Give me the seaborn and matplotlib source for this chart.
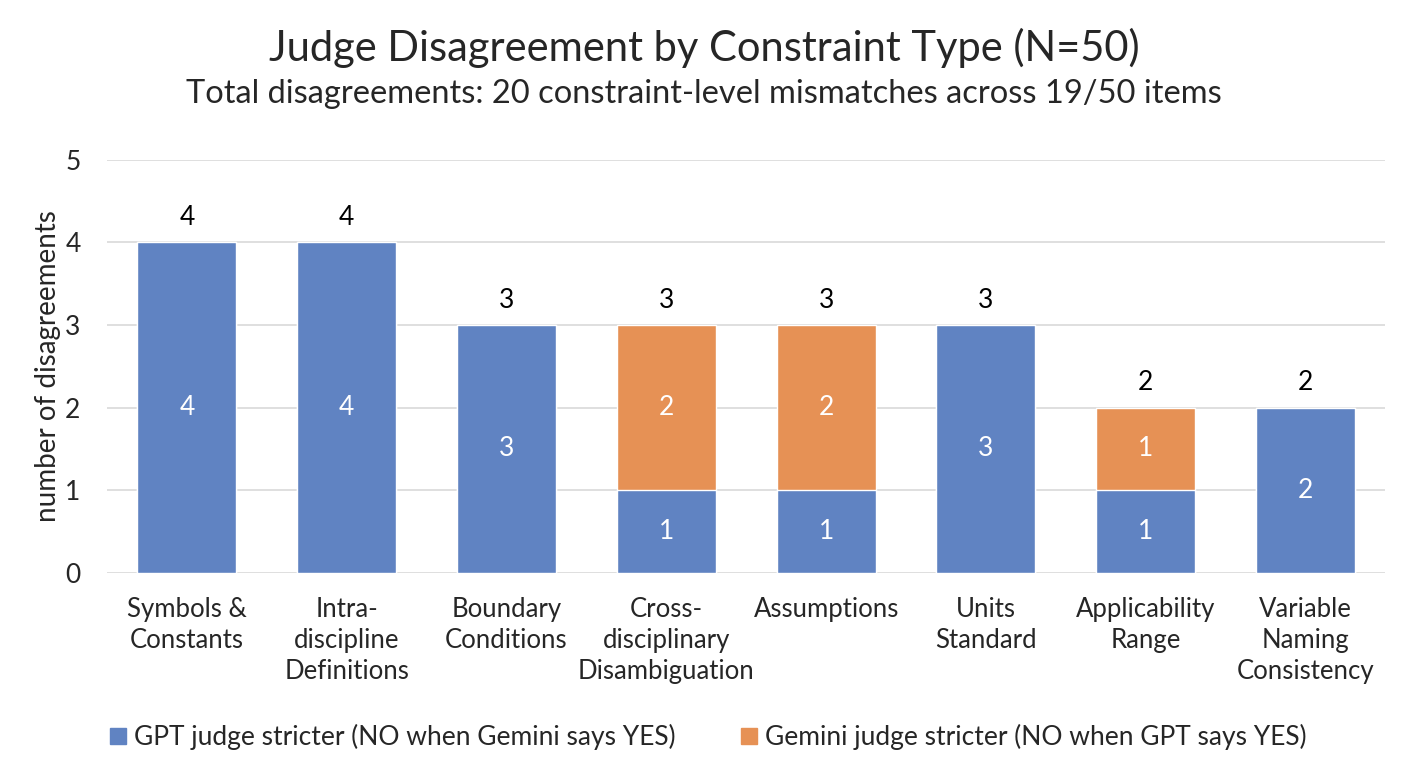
import pandas as pd
import seaborn as sns
import matplotlib.pyplot as plt
from matplotlib.patches import Patch

categories = ["Symbols &\nConstants", "Intra-\ndiscipline\nDefinitions", "Boundary\nConditions",
              "Cross-\ndisciplinary\nDisambiguation", "Assumptions", "Units\nStandard",
              "Applicability\nRange", "Variable\nNaming\nConsistency"]
gpt_stricter = [4, 4, 3, 1, 1, 3, 1, 2]
gemini_stricter = [0, 0, 0, 2, 2, 0, 1, 0]
y_ticks = [0, 1, 2, 3, 4, 5]

BLUE = "#6083C2"
ORANGE = "#E69155"
FONT = ["Lato", "DejaVu Sans"]

sns.set_theme(style="white")
plt.rcParams["font.family"] = FONT

df = pd.DataFrame({"category": categories, "gpt": gpt_stricter, "gemini": gemini_stricter})
df["total"] = df["gpt"] + df["gemini"]

fig = plt.figure(figsize=(14.08, 7.68), dpi=100)
ax = fig.add_axes([0.076, 0.254, 0.908, 0.538])

# stacked: draw totals in orange, then GPT part in blue over it
sns.barplot(data=df, x="category", y="total", color=ORANGE, saturation=1, width=0.62, ax=ax)
sns.barplot(data=df, x="category", y="gpt", color=BLUE, saturation=1, width=0.62, ax=ax)

for i, row in df.iterrows():
    if row["gpt"] > 0:
        ax.text(i, row["gpt"] / 2, str(row["gpt"]), ha="center", va="center",
                color="white", fontsize=19)
    if row["gemini"] > 0:
        ax.text(i, row["gpt"] + row["gemini"] / 2, str(row["gemini"]), ha="center", va="center",
                color="white", fontsize=19)
    ax.text(i, row["total"] + 0.3, str(row["total"]), ha="center", va="center",
            color="black", fontsize=19)

ax.set_ylim(0, 5)
ax.set_xlim(-0.5, len(categories) - 0.5)
ax.set_yticks(y_ticks)
ax.yaxis.grid(True, color="#D9D9D9", linewidth=1.2)
ax.set_axisbelow(True)
for s in ax.spines.values():
    s.set_visible(False)
ax.tick_params(axis="y", labelsize=19, pad=19, length=0)
ax.tick_params(axis="x", labelsize=18.5, pad=17, length=0)
for lab in ax.get_xticklabels():
    lab.set_linespacing(1.3)
ax.set_xlabel("")
ax.set_ylabel("number of disagreements", fontsize=20, labelpad=3)

fig.text(0.5, 0.938, "Judge Disagreement by Constraint Type (N=50)", ha="center", va="center",
         fontsize=30)
fig.text(0.5, 0.878, "Total disagreements: 20 constraint-level mismatches across 19/50 items",
         ha="center", va="center", fontsize=23.5)

handles = [Patch(color=BLUE, label="GPT judge stricter (NO when Gemini says YES)"),
           Patch(color=ORANGE, label="Gemini judge stricter (NO when GPT says YES)")]
fig.legend(handles=handles, loc="center", bbox_to_anchor=(0.503, 0.04), ncol=2, frameon=False,
           fontsize=19, handlelength=0.6, handleheight=0.6, handletextpad=0.3, columnspacing=2.5)

fig.savefig("out.png", dpi=100)
